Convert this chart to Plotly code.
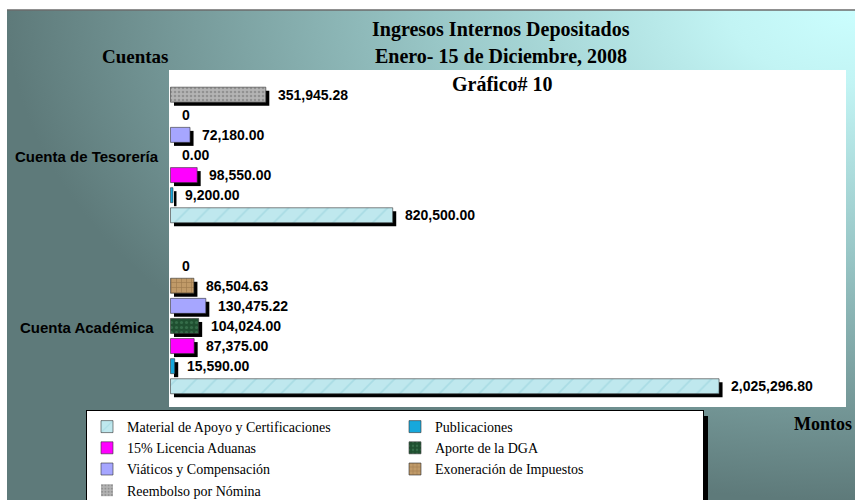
import base64
import plotly.graph_objects as go

# Datos (Gráfico# 10)
cuentas = ["Cuenta Académica", "Cuenta de Tesorería"]
series = [
    "Material de Apoyo y Certificaciones",
    "Publicaciones",
    "15% Licencia Aduanas",
    "Aporte de la DGA",
    "Viáticos y Compensación",
    "Exoneración de Impuestos",
    "Reembolso por Nómina",
]
material = [2025296.80, 820500.00]
publicaciones = [15590.00, 9200.00]
licencia = [87375.00, 98550.00]
aporte_dga = [104024.00, 0.00]
viaticos = [130475.22, 72180.00]
exoneracion = [86504.63, 0]
reembolso = [0, 351945.28]

valores = [material, publicaciones, licencia, aporte_dga, viaticos, exoneracion, reembolso]
colores = ["#bfe8ee", "#16a8dc", "#ff00ff", "#1f4f30", "#a6a6ff", "#c09a68", "#b4b4b4"]
patrones = [
    dict(shape="/", fgcolor="#92cfd9", size=14, solidity=0.12),
    None,
    None,
    dict(shape=".", fgcolor="#4a8a62", size=5, solidity=0.3),
    None,
    dict(shape="+", fgcolor="#7d5c36", size=5, solidity=0.25),
    dict(shape=".", fgcolor="#6e6e6e", size=4, solidity=0.35),
]

W, H = 855, 500
L, R, T, B = 169, 846, 70, 407
Y_RANGE = [-0.474, 1.497]
PX_UNIT = (B - T) / (Y_RANGE[1] - Y_RANGE[0])
SLOT = 20.1 / PX_UNIT
BAR_W = 15 / PX_UNIT
SOMBRA_DY = 3.5 / PX_UNIT
X_RANGE = [-5500, 2494000]
SOMBRA_DX = 3.5 * (X_RANGE[1] - X_RANGE[0]) / (R - L)


def px_x(p):
    return (p - L) / (R - L)


def px_y(p):
    return (B - p) / (B - T)


def etiqueta(v):
    if isinstance(v, int):
        return str(v)
    return f"{v:,.2f}"


fig = go.Figure()

# sombras negras
for i, vals in enumerate(valores):
    centro = (i - 3) * SLOT
    fig.add_trace(go.Bar(
        x=vals, y=cuentas, orientation="h", base=SOMBRA_DX,
        width=BAR_W, offset=centro - BAR_W / 2 - SOMBRA_DY,
        marker=dict(color="black", line=dict(width=0)),
        showlegend=False, hoverinfo="skip",
    ))

for i, (nombre, vals) in enumerate(zip(series, valores)):
    centro = (i - 3) * SLOT
    # sin borde en las barras con valor cero
    bordes = [0.6 if v else 0 for v in vals]
    marker = dict(color=colores[i], line=dict(color="#333333", width=bordes))
    if patrones[i]:
        marker["pattern"] = patrones[i]
    fig.add_trace(go.Bar(
        x=vals, y=cuentas, orientation="h", name=nombre,
        width=BAR_W, offset=centro - BAR_W / 2, marker=marker,
    ))
    for cuenta, v in zip(cuentas, vals):
        fig.add_annotation(
            x=v, y=cuenta, xref="x", yref="y", text=etiqueta(v),
            showarrow=False, xanchor="left", xshift=10, yshift=centro * PX_UNIT,
            font=dict(family="Arial", size=14, color="black", weight="bold"),
        )

# nombres de cuentas
for cuenta in cuentas:
    fig.add_annotation(
        x=px_x(87), y=cuenta, xref="paper", yref="y", text=cuenta, showarrow=False,
        xanchor="center", yshift=-2,
        font=dict(family="Arial", size=15, color="black", weight="bold"),
    )

serif = dict(family="Liberation Serif", color="black", weight="bold")
textos = [
    ("Ingresos Internos Depositados", 501, 30, 20),
    ("Enero- 15 de Diciembre, 2008", 501, 56, 20),
    ("Gráfico# 10", 502, 84, 20),
    ("Cuentas", 135, 57, 19),
    ("Montos", 823, 424, 18),
]
for txt, x, y, s in textos:
    fig.add_annotation(
        x=px_x(x), y=px_y(y), xref="paper", yref="paper", text=txt, showarrow=False,
        xanchor="center", yanchor="middle", font=dict(size=s, **serif),
    )

# fondo degradado
svg = (
    '<svg xmlns="http://www.w3.org/2000/svg" width="848" height="490" '
    'viewBox="0 0 848 490" preserveAspectRatio="none"><defs>'
    '<radialGradient id="g" cx="1" cy="0" r="1" fx="1" fy="0">'
    '<stop offset="0" stop-color="#cbfefe"/><stop offset="0.15" stop-color="#c2f4f4"/>'
    '<stop offset="0.5" stop-color="#98c6c6"/>'
    '<stop offset="1" stop-color="#5e7a7a"/></radialGradient></defs>'
    '<rect width="848" height="490" fill="url(#g)"/></svg>'
)
fig.add_layout_image(
    source="data:image/svg+xml;base64," + base64.b64encode(svg.encode()).decode(),
    xref="paper", yref="paper", x=px_x(7), y=px_y(10),
    sizex=848 / (R - L), sizey=490 / (B - T), sizing="stretch",
    xanchor="left", yanchor="top", layer="below",
)
# área blanca del gráfico
fig.add_shape(type="rect", xref="paper", yref="paper", x0=0, x1=1, y0=0, y1=1,
              fillcolor="white", line=dict(width=0), layer="below")
fig.add_shape(type="line", xref="paper", yref="paper", x0=px_x(7), x1=px_x(855),
              y0=px_y(10), y1=px_y(10), line=dict(color="#6b6b6b", width=1.5))
# sombra de la leyenda
fig.add_shape(type="rect", xref="paper", yref="paper", x0=px_x(91), x1=px_x(708),
              y0=px_y(416), y1=px_y(510), fillcolor="black", line=dict(width=0))

fig.update_layout(
    width=W, height=H,
    margin=dict(l=L, r=W - R, t=T, b=H - B, autoexpand=False),
    paper_bgcolor="white", plot_bgcolor="white",
    barmode="overlay",
    xaxis=dict(range=X_RANGE, visible=False),
    yaxis=dict(range=Y_RANGE, categoryorder="array", categoryarray=cuentas,
               showticklabels=False, showgrid=False, zeroline=False, ticks=""),
    legend=dict(
        orientation="h", x=px_x(86), y=px_y(410), xanchor="left", yanchor="top",
        entrywidth=263, entrywidthmode="pixels", traceorder="normal",
        bgcolor="white", bordercolor="black", borderwidth=1,
        font=dict(family="Liberation Serif", size=14, color="black"),
    ),
    hovermode=False,
)

fig.write_html("out.html", config={"displayModeBar": False},
               post_script="document.body.style.margin = '0';")
